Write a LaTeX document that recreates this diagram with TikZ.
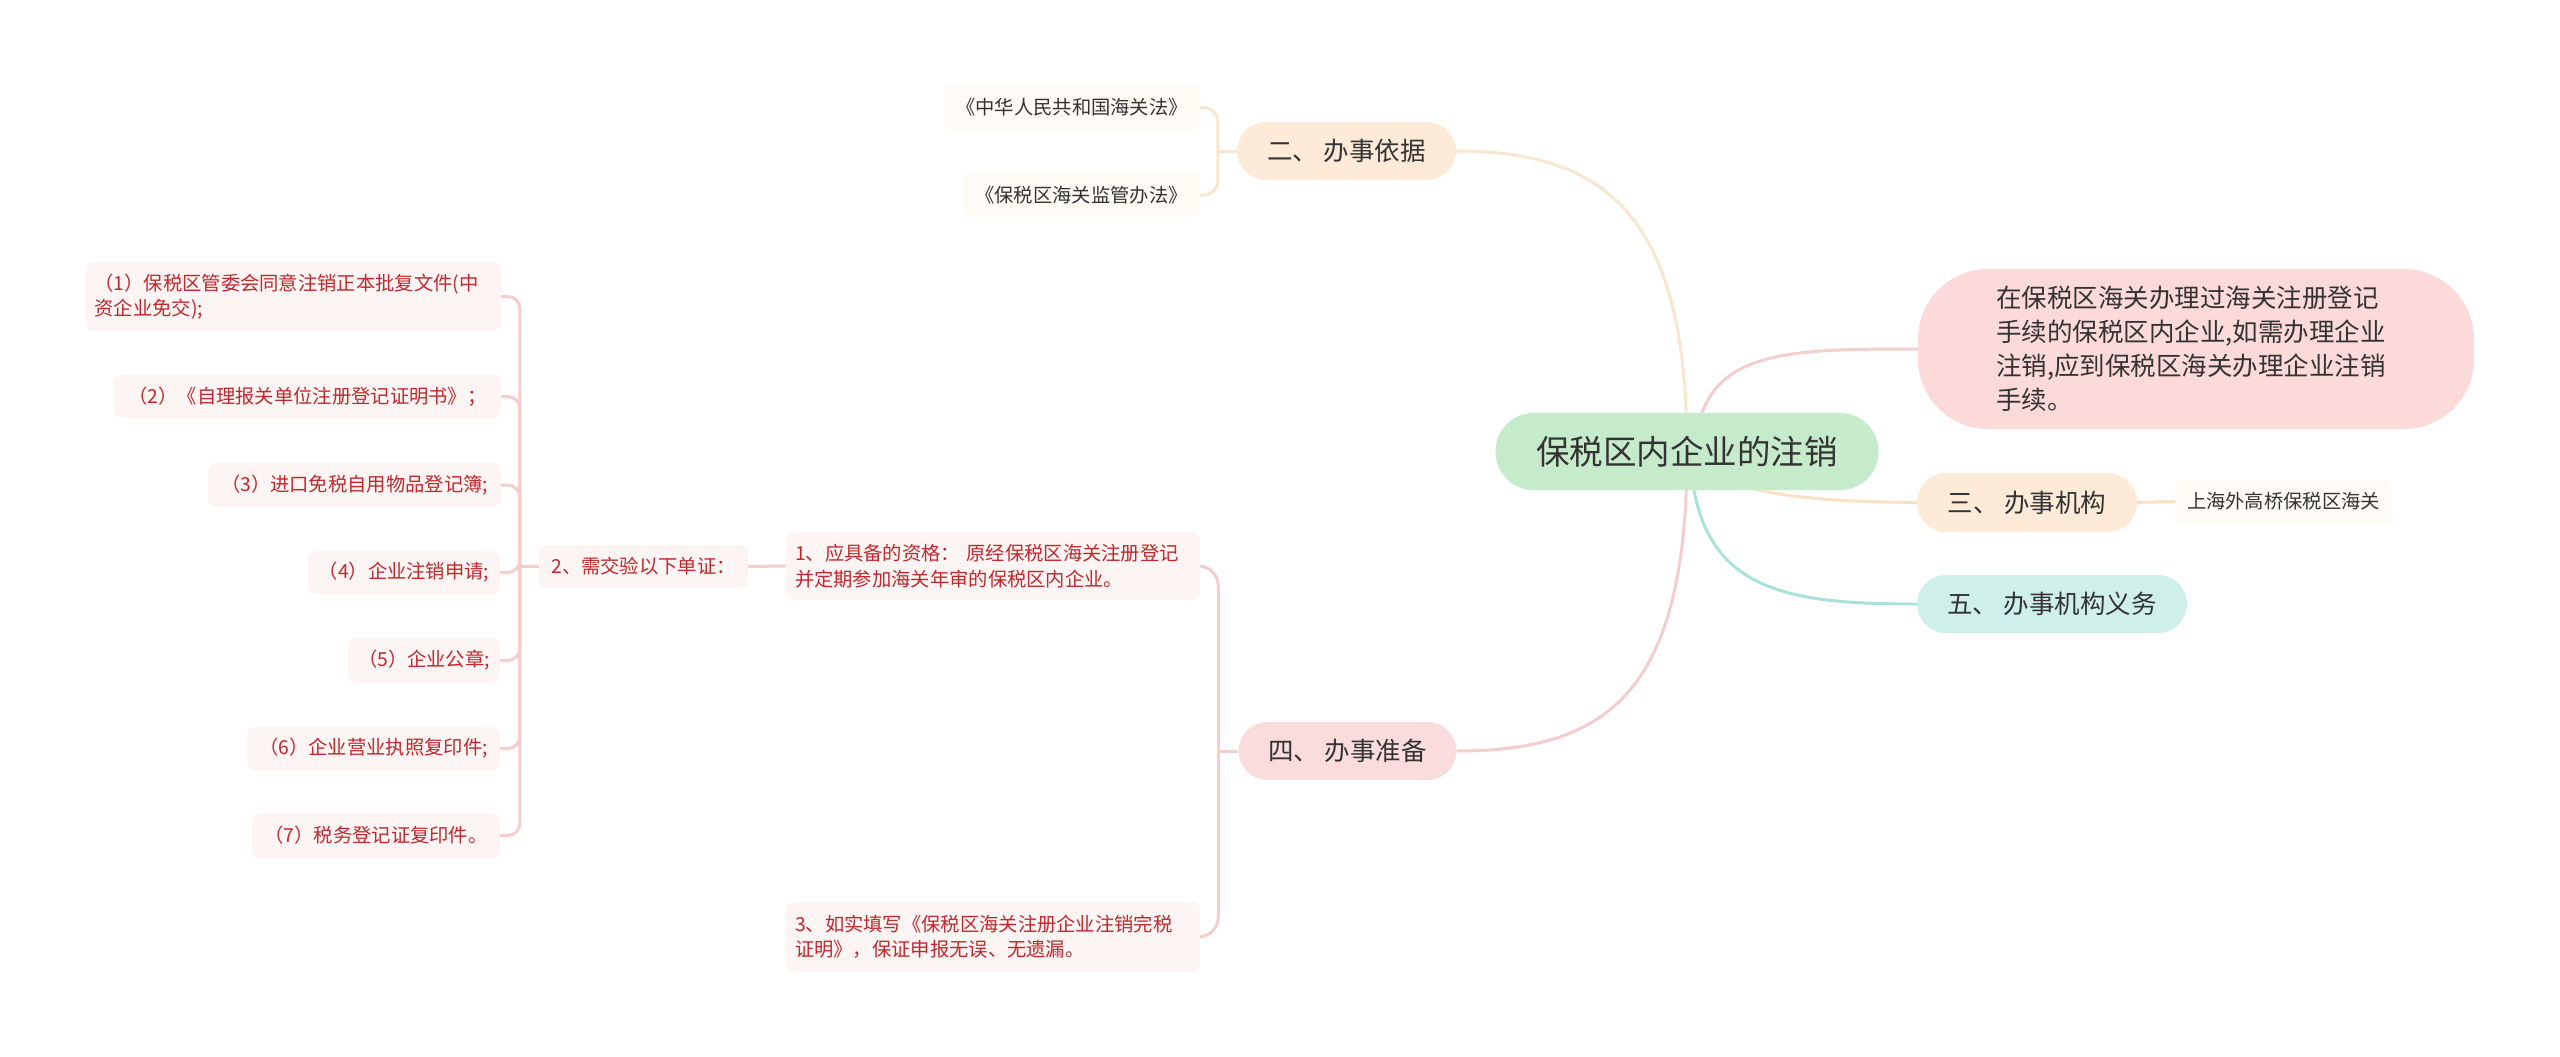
\documentclass[tikz,border=0pt]{standalone}
\usepackage{fontspec}
\setmainfont{Noto Sans CJK SC}
\usetikzlibrary{backgrounds}
\definecolor{cgreen}{HTML}{C6EBCB}
\definecolor{cdesc}{HTML}{FCDADA}
\definecolor{cbeige}{HTML}{FDEBD8}
\definecolor{cpink}{HTML}{FBDCDC}
\definecolor{cteal}{HTML}{CFF0EA}
\definecolor{kbeige}{HTML}{FEFAF4}
\definecolor{kpink}{HTML}{FDF4F4}
\definecolor{txt}{HTML}{333333}
\definecolor{cred}{HTML}{C0282D}
\definecolor{lbeige}{HTML}{FAE5CE}
\definecolor{lorange}{HTML}{FBE1C3}
\definecolor{lpink}{HTML}{F5CDCD}
\definecolor{lteal}{HTML}{A9E3D8}
\begin{document}
\begin{tikzpicture}[x=1pt,y=-1pt,
  base/.style={inner sep=0pt, align=center, text=txt},
  bignode/.style={base, font=\fontsize{25.5}{34}\selectfont, minimum height=58pt, rounded corners=29pt},
  smallnode/.style={base, font=\fontsize{19.3}{25.5}\selectfont, rounded corners=8pt},
  redchild/.style={smallnode, fill=kpink, text=cred},
  beigechild/.style={smallnode, fill=kbeige},
  conn/.style={line width=3pt},
  l2/.style={conn, draw=lbeige},
  l3/.style={conn, draw=lorange},
  l4/.style={conn, draw=lpink},
  l5/.style={conn, draw=lteal}]
\useasboundingbox (0,0) rectangle (2560,1057);

% central
\node[base, fill=cgreen, minimum width=383pt, minimum height=77pt, rounded corners=38pt,
  font=\fontsize{33.5}{40}\selectfont] (c) at (1687,451.5) {保税区内企业的注销};

% right side
\node[base, fill=cdesc, minimum width=556pt, minimum height=160pt, rounded corners=70pt,
  font=\fontsize{25.5}{34}\selectfont, text width=400pt, align=left] (desc) at (2196,349)
  {在保税区海关办理过海关注册登记\\手续的保税区内企业,如需办理企业\\注销,应到保税区海关办理企业注销\\手续。};
\node[bignode, fill=cbeige, minimum width=220pt, minimum height=59pt] (b3) at (2027,502.5) {三、 办事机构};
\node[beigechild, minimum width=217pt, minimum height=43pt] (b3c) at (2283.5,501.5) {上海外高桥保税区海关};
\node[bignode, fill=cteal, minimum width=270pt] (b5) at (2052,604) {五、 办事机构义务};

% 二
\node[bignode, fill=cbeige, minimum width=219pt] (b2) at (1346.5,151) {二、 办事依据};
\node[beigechild, minimum width=256pt, minimum height=45pt] (b2a) at (1072,107.5) {《中华人民共和国海关法》};
\node[beigechild, minimum width=237pt, minimum height=44pt] (b2b) at (1081.5,195) {《保税区海关监管办法》};

% 四
\node[bignode, fill=cpink, minimum width=218pt] (b4) at (1347.5,751) {四、 办事准备};
\node[redchild, minimum width=414pt, minimum height=68pt, text width=396pt, align=left] (d1) at (993,566)
  {1、应具备的资格： 原经保税区海关注册登记\\并定期参加海关年审的保税区内企业。};
\node[redchild, minimum width=414pt, minimum height=70pt, text width=396pt, align=left] (d3) at (993,937)
  {3、如实填写《保税区海关注册企业注销完税\\证明》，保证申报无误、无遗漏。};
\node[redchild, minimum width=209pt, minimum height=43pt] (n2) at (643.5,566.5) {2、需交验以下单证：};

\node[redchild, minimum width=415pt, minimum height=69pt, text width=398pt, align=left] (e1) at (293.5,296.5)
  {（1）保税区管委会同意注销正本批复文件(中\\资企业免交);};
\node[redchild, minimum width=387pt, minimum height=43pt] (e2) at (307.5,396.5) {（2）《自理报关单位注册登记证明书》；};
\node[redchild, minimum width=293pt, minimum height=44pt] (e3) at (354.5,485) {（3）进口免税自用物品登记簿;};
\node[redchild, minimum width=192pt, minimum height=43pt] (e4) at (404,572.5) {（4）企业注销申请;};
\node[redchild, minimum width=152pt, minimum height=45pt] (e5) at (424,660.5) {（5）企业公章;};
\node[redchild, minimum width=253pt, minimum height=43pt] (e6) at (373.5,748.5) {（6）企业营业执照复印件;};
\node[redchild, minimum width=248pt, minimum height=45pt] (e7) at (376,835.5) {（7）税务登记证复印件。};

\begin{pgfonlayer}{background}
\draw[l2] (c.center) .. controls (1687,220) and (1610,151) .. (b2.east);
\draw[l4] ([xshift=8pt]c.center) .. controls (1700,350) and (1780,349) .. (desc.west);
\draw[l3] (c.center) .. controls (1710,495) and (1820,502) .. (b3.west);
\draw[l5] ([xshift=3pt]c.center) .. controls (1695,590) and (1780,604) .. (b5.west);
\draw[l4] (c.center) .. controls (1687,690) and (1610,751) .. (b4.east);
\draw[l3] (b3.east) -- (b3c.west);
% 二 bracket
\draw[l2] (b2.west) -- ++(-19,0) coordinate (j2);
\draw[l2, rounded corners=14pt] (j2) |- (b2a.east);
\draw[l2, rounded corners=14pt] (j2) |- (b2b.east);
% 四 bracket
\draw[l4] (b4.west) -- ++(-20,0) coordinate (j4);
\draw[l4, rounded corners=20pt] (j4) |- (d1.east);
\draw[l4, rounded corners=20pt] (j4) |- (d3.east);
\draw[l4] (d1.west) -- (n2.east);
\draw[l4] (n2.west) -- ++(-19,0) coordinate (j5);
\foreach \e in {e1,e2,e3,e4,e5,e6,e7}
  \draw[l4, rounded corners=12pt] (j5) |- (\e.east);
\end{pgfonlayer}
\end{tikzpicture}
\end{document}
